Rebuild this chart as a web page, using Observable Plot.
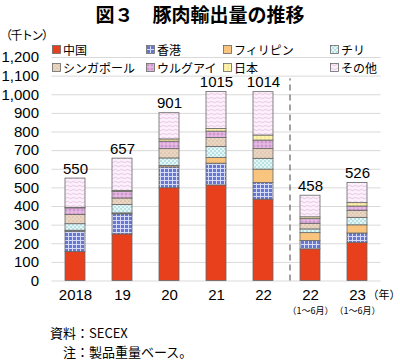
<!DOCTYPE html>
<html><head><meta charset="utf-8">
<script src="https://cdn.jsdelivr.net/npm/d3@7"></script>
<script src="https://cdn.jsdelivr.net/npm/@observablehq/plot@0.6"></script>
<style>
body{margin:0;background:#fff;}
#wrap{position:relative;width:400px;height:361px;overflow:hidden;font-family:"Liberation Sans","Noto Sans CJK JP",sans-serif;color:#000;}
#wrap > svg.chart{position:absolute;left:0;top:0;}
.title{position:absolute;left:0;width:400px;top:2px;text-align:center;font-family:"Noto Sans CJK JP",sans-serif;font-weight:bold;font-size:19px;line-height:24px;}
.unit{position:absolute;left:0;top:26px;font-family:"Noto Sans CJK JP",sans-serif;font-size:12px;letter-spacing:-1.5px;line-height:18px;}
.leg{position:absolute;font-family:"Noto Sans CJK JP",sans-serif;font-size:12px;line-height:17px;white-space:nowrap;display:flex;align-items:center;}
.leg svg{margin-right:2px;}
.cap{position:absolute;font-family:"Noto Sans CJK JP",sans-serif;font-size:13px;line-height:18px;white-space:nowrap;}
</style>
</head><body>
<div id="wrap"></div>
<script>
const years = ["2018","19","20","21","22","22H1","23H1"];
const yearLabels = ["2018","19","20","21","22","22","23"];
const subLabels = ["","","","","","（1～6月）","（1～6月）"];
const countries = ["中国","香港","フィリピン","チリ","シンガポール","ウルグアイ","日本","その他"];
const china       = [155,250,498,513,437,170,205];
const hongkong    = [110,108,112,117, 89, 45, 50];
const philippines = [  5,  5,  8, 30, 72, 42, 44];
const chile       = [ 35, 45, 40, 60, 58, 20, 40];
const singapore   = [ 50, 35, 50, 48, 53, 30, 38];
const uruguay     = [ 35, 35, 40, 34, 45, 25, 23];
const japan       = [  3,  5, 12, 14, 27, 10, 18];
const other       = [157,174,141,199,233,116,108];
const totals      = [550,657,901,1015,1014,458,526];
const yTicks = d3.range(0, 1201, 100);

const series = [china, hongkong, philippines, chile, singapore, uruguay, japan, other];
const patIds = ["p-cn","p-hk","p-ph","p-cl","p-sg","p-uy","p-jp","p-ot"];

const wrap = document.getElementById("wrap");

const defs = `<svg width="0" height="0" style="position:absolute"><defs>
<pattern id="p-cn" width="4" height="4" patternUnits="userSpaceOnUse"><rect width="4" height="4" fill="#e8401c"/></pattern>
<pattern id="p-hk" width="4" height="4" patternUnits="userSpaceOnUse"><rect width="4" height="4" fill="#6676d2"/><path d="M0 0.5H4M0.5 0V4" stroke="#d6dbf5" stroke-width="1"/></pattern>
<pattern id="p-ph" width="4" height="4" patternUnits="userSpaceOnUse"><rect width="4" height="4" fill="#f8c47e"/></pattern>
<pattern id="p-cl" width="4" height="4" patternUnits="userSpaceOnUse"><rect width="4" height="4" fill="#e4f7f7"/><circle cx="1" cy="1" r="0.7" fill="#6fbfc6"/><circle cx="3" cy="3" r="0.7" fill="#6fbfc6"/></pattern>
<pattern id="p-sg" width="4" height="4" patternUnits="userSpaceOnUse"><rect width="4" height="4" fill="#ead6c2"/><circle cx="1" cy="1" r="0.6" fill="#b89a7c"/><circle cx="3" cy="3" r="0.6" fill="#c9ae92"/></pattern>
<pattern id="p-uy" width="4" height="4" patternUnits="userSpaceOnUse"><rect width="4" height="4" fill="#e8b9e5"/><circle cx="2" cy="2" r="1" fill="none" stroke="#b07ab0" stroke-width="0.6"/></pattern>
<pattern id="p-jp" width="4" height="4" patternUnits="userSpaceOnUse"><rect width="4" height="4" fill="#fff4ae"/><path d="M1 0V4" stroke="#ddd07a" stroke-width="0.6"/></pattern>
<pattern id="p-ot" width="6" height="4" patternUnits="userSpaceOnUse"><rect width="6" height="4" fill="#fcf0fb"/><path d="M0 2Q1.5 0.6 3 2T6 2" fill="none" stroke="#dcb0d8" stroke-width="0.7"/></pattern>
</defs></svg>`;
wrap.insertAdjacentHTML("beforeend", defs);

const data = [];
years.forEach((yr, i) => series.forEach((s, k) => data.push({year: yr, country: countries[k], value: s[i], pat: patIds[k]})));

const chart = Plot.plot({
  width: 400, height: 361,
  marginLeft: 51.5, marginRight: 19.5, marginTop: 57, marginBottom: 80.5,
  style: {fontFamily: '"Liberation Sans","Noto Sans CJK JP",sans-serif', fontSize: "15px", background: "transparent", color: "#000"},
  x: {domain: years, paddingInner: 0.585, paddingOuter: 0.2925, axis: null},
  y: {domain: [0, 1200], axis: null},
  marks: [
    Plot.gridY(yTicks, {stroke: "#d9d9d9", strokeOpacity: 1}),
    Plot.axisY(yTicks, {tickSize: 0, tickPadding: 13, tickFormat: d3.format(","), fontSize: 15, label: null}),
    Plot.axisX({tickSize: 0, tickPadding: 8, fontSize: 15, label: null, tickFormat: d => yearLabels[years.indexOf(d)]}),
    Plot.barY(data, {x: "year", y: "value", fill: d => `url(#${d.pat})`, stroke: "#666", strokeWidth: 0.8}),
    Plot.text(years, {x: d => d, y: (d, i) => totals[i], text: (d, i) => String(totals[i]), lineAnchor: "bottom", dy: -5, fontSize: 15}),
    Plot.ruleX(["22H1"], {dx: -20.5, y1: 0, y2: 1085, stroke: "#444", strokeWidth: 1, strokeDasharray: "6,4"}),
    Plot.text(years.filter((d, i) => subLabels[i]), {x: d => d, text: d => subLabels[years.indexOf(d)], frameAnchor: "bottom", lineAnchor: "middle", dy: 30.5, fontSize: 9, fontFamily: '"Noto Sans CJK JP",sans-serif'}),
    Plot.text(["（年）"], {frameAnchor: "bottom-right", lineAnchor: "middle", dx: 19.5, dy: 14.5, textAnchor: "end", fontSize: 11, fontFamily: '"Noto Sans CJK JP",sans-serif'})
  ]
});
chart.classList.add("chart");
wrap.appendChild(chart);

const t = document.createElement("div"); t.className = "title"; t.textContent = "図３　豚肉輸出量の推移"; wrap.appendChild(t);
const u = document.createElement("div"); u.className = "unit"; u.textContent = "（千トン）"; wrap.appendChild(u);
const legX = [52, 146, 223, 330];
const legY = [41, 59];
countries.forEach((c, k) => {
  const d = document.createElement("div");
  d.className = "leg";
  d.style.left = legX[k % 4] + "px";
  d.style.top = legY[Math.floor(k / 4)] + "px";
  d.innerHTML = `<svg width="9" height="9"><rect x="0.5" y="0.5" width="8" height="8" fill="url(#${patIds[k]})" stroke="#666" stroke-width="0.8"/></svg><span>${c}</span>`;
  wrap.appendChild(d);
});
const c1 = document.createElement("div"); c1.className = "cap"; c1.style.left = "50px"; c1.style.top = "324px"; c1.textContent = "資料：SECEX"; wrap.appendChild(c1);
const c2 = document.createElement("div"); c2.className = "cap"; c2.style.left = "63px"; c2.style.top = "343px"; c2.textContent = "注：製品重量ベース。"; wrap.appendChild(c2);
</script>
</body></html>
